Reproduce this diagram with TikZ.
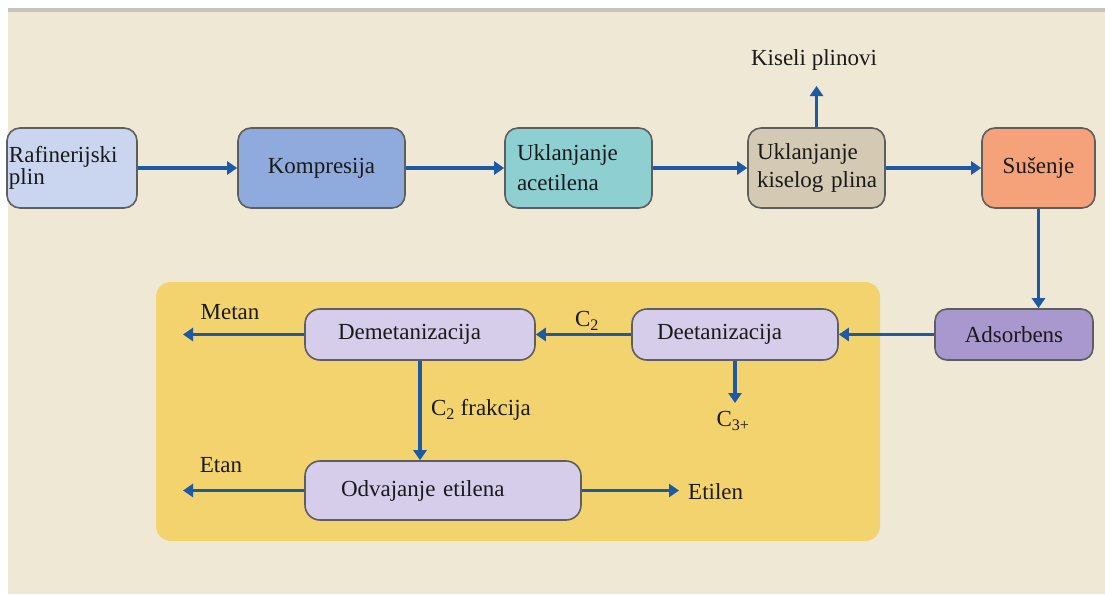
\documentclass[tikz,border=0pt]{standalone}
\usepackage{fontspec}
\setmainfont{Liberation Serif}
\usetikzlibrary{arrows.meta}
\definecolor{bg}{HTML}{EFE8D5}
\definecolor{bar}{HTML}{C4C4BC}
\definecolor{panel}{HTML}{F2D36E}
\definecolor{border}{HTML}{5E5E5E}
\definecolor{arrowc}{HTML}{1D59A5}
\definecolor{txt}{HTML}{1A1A1A}
\definecolor{cRaf}{HTML}{CAD6EF}
\definecolor{cKomp}{HTML}{8FAADC}
\definecolor{cAcet}{HTML}{8ECFD1}
\definecolor{cKis}{HTML}{D4C9B2}
\definecolor{cSus}{HTML}{F5A17A}
\definecolor{cAds}{HTML}{A898CE}
\definecolor{cLav}{HTML}{D5CDEA}
\begin{document}
\begin{tikzpicture}[x=1pt,y=-1pt,
  proc/.style={draw=border, line width=1.6pt, rounded corners=13pt, minimum height=80pt,
    text=txt, font=\fontsize{23}{28}\selectfont, inner ysep=0pt},
  lowproc/.style={draw=border, line width=1.6pt, rounded corners=15pt, minimum height=51pt,
    text=txt, font=\fontsize{23}{28}\selectfont, align=left, inner ysep=0pt, fill=cLav},
  lbl/.style={text=txt, font=\fontsize{23}{28}\selectfont, inner sep=0pt},
  flow/.style={draw=arrowc, line width=3.2pt, -{Triangle[length=10pt,width=13pt]}}]
\useasboundingbox (0,0) rectangle (1105,594);
\fill[white] (0,0) rectangle (1105,594);
\fill[bg] (8,12) rectangle (1105,594);
\fill[bar] (8,8) rectangle (1105,12.5);
\fill[panel, rounded corners=15pt] (156,282) rectangle (880,541);

% top row
\node[proc, fill=cRaf, text width=126pt, inner xsep=2pt, align=left,
  font=\fontsize{23}{19}\selectfont] (raf) at (72,168) {Rafinerijski\\plin};
\node[proc, fill=cKomp, minimum width=167pt] (komp) at (321.5,168) {Kompresija};
\node[proc, fill=cAcet, text width=123pt, inner xsep=12pt, align=left,
  font=\fontsize{23}{30}\selectfont] (acet) at (578.5,168) {Uklanjanje\\acetilena};
\node[proc, fill=cKis, text width=119pt, inner xsep=9pt, align=left] (kis) at (816.5,168) {Uklanjanje\\\mbox{kiselog plina}};
\node[proc, fill=cSus, minimum width=113pt] (sus) at (1038.5,168) {Sušenje};
\node[proc, fill=cAds, minimum width=158pt, minimum height=51pt, rounded corners=12pt] (ads) at (1014,334.5) {Adsorbens};

% lower boxes
\node[lowproc, text width=156pt, inner xsep=25pt] (deet) at (735,334.5) {Deetanizacija};
\node[lowproc, text width=164pt, inner xsep=33pt] (demet) at (420,334.5) {Demetanizacija};
\node[lowproc, text width=204pt, inner xsep=36pt, minimum height=59pt] (odv) at (443,490.5) {Odvajanje etilena};

% labels
\node[lbl] (kislbl) at (814,60) {Kiseli plinovi};
\node[lbl] (metan) at (230,312) {Metan};
\node[lbl] (c2) at (587,321) {C\textsubscript{2}};
\node[lbl] (c2f) at (481,410) {C\textsubscript{2} frakcija};
\node[lbl] (c3) at (733,421) {C\textsubscript{3+}};
\node[lbl] (etan) at (221,465) {Etan};
\node[lbl, anchor=west] (etilen) at (688,492) {Etilen};

\coordinate (kisA) at (816.5,86);
\coordinate (c3A) at (735,403);
\coordinate (metA) at (183,334.5);
\coordinate (etanA) at (183,490.5);
\coordinate (etilA) at (679,490.5);

% connectors
\draw[flow] (raf.east) -- (komp.west);
\draw[flow] (komp.east) -- (acet.west);
\draw[flow] (acet.east) -- (kis.west);
\draw[flow] (kis.east) -- (sus.west);
\draw[flow] (kis.north) -- (kisA);
\draw[flow] (sus.south) -- (sus.south |- ads.north);
\draw[flow] (ads.west) -- (deet.east);
\draw[flow] (deet.west) -- (demet.east);
\draw[flow] (deet.south) -- (c3A);
\draw[flow] (demet.west) -- (metA);
\draw[flow] (demet.south) -- (demet.south |- odv.north);
\draw[flow] (odv.west) -- (etanA);
\draw[flow] (odv.east) -- (etilA);
\end{tikzpicture}
\end{document}
